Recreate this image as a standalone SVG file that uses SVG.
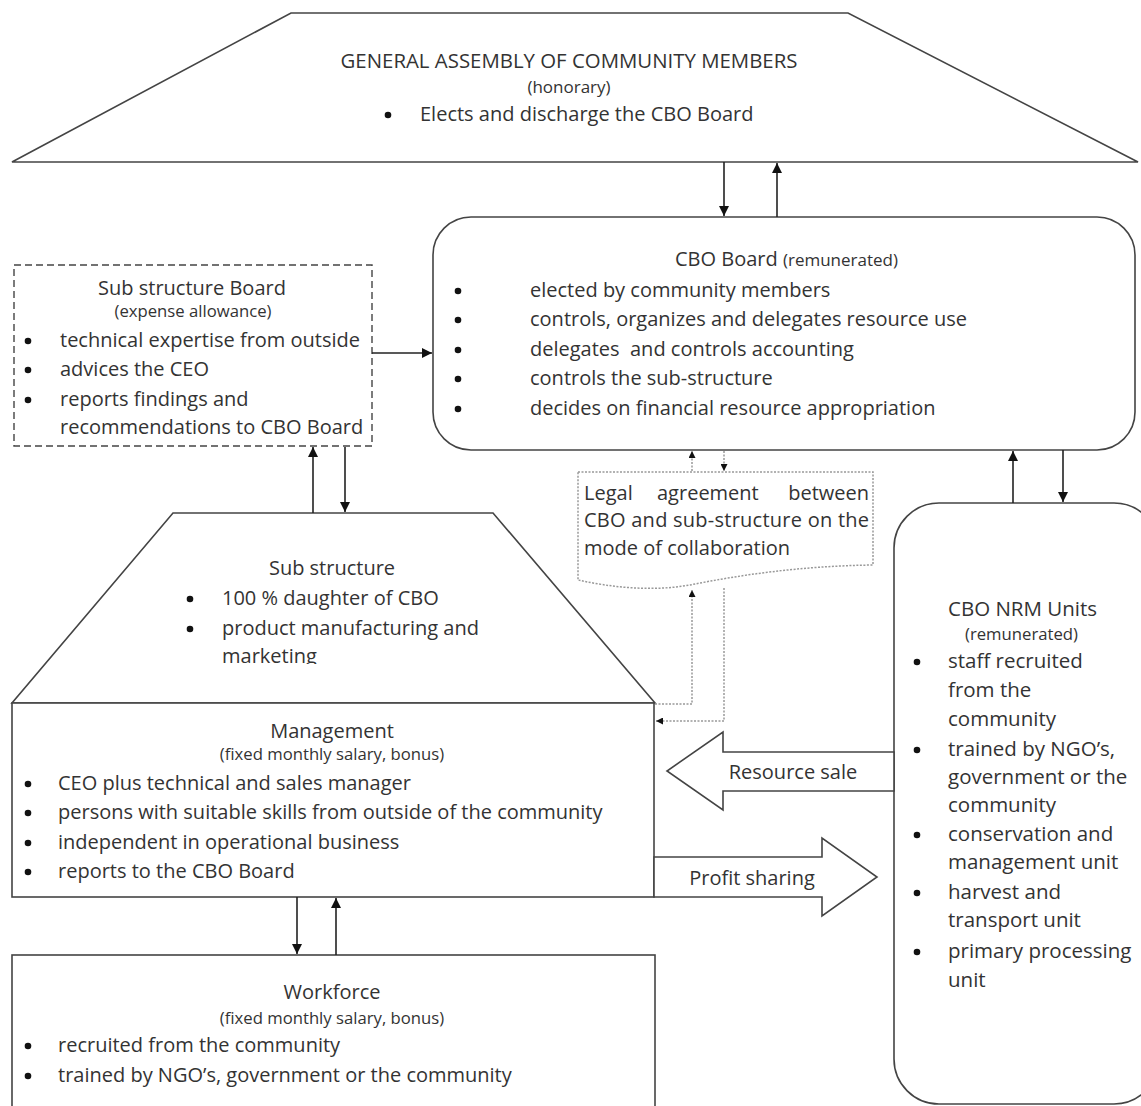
<svg xmlns="http://www.w3.org/2000/svg" width="1141" height="1106" viewBox="0 0 1141 1106">
<defs>
<style>
text{font-family:"Open Sans","Liberation Sans",Arial,sans-serif;fill:#333;}
.t{font-size:20px;}
.s{font-size:16.7px;}
.b{fill:#111;}
.c{text-anchor:middle;}
.box{fill:#fff;stroke:#444;stroke-width:1.6;}
.dash{fill:#fff;stroke:#444;stroke-width:1.4;stroke-dasharray:7 4;}
.dot{fill:#fff;stroke:#999;stroke-width:1.5;stroke-dasharray:2 1.5;}
.ln{fill:none;stroke:#222;stroke-width:1.6;}
.dl{fill:none;stroke:#999;stroke-width:1.5;stroke-dasharray:2 1.5;}
</style>
<marker id="ah" viewBox="0 0 10 10" refX="10" refY="5" markerWidth="7" markerHeight="7" markerUnits="userSpaceOnUse" orient="auto">
<path d="M0,0 L10,5 L0,10 Z" fill="#111"/>
</marker>
<marker id="ahb" viewBox="0 0 10 10" refX="10" refY="5" markerWidth="10" markerHeight="10" markerUnits="userSpaceOnUse" orient="auto">
<path d="M0,0 L10,5 L0,10 Z" fill="#111"/>
</marker>
<clipPath id="subclip"><rect x="0" y="500" width="700" height="164"/></clipPath>
</defs>

<g id="general-assembly">
<polygon class="box" points="291,13 848,13 1138,162 12,162"/>
<text class="c" x="569" y="68" style="font-size:20.4px">GENERAL ASSEMBLY OF COMMUNITY MEMBERS</text>
<text class="c" x="569" y="93" style="font-size:17px">(honorary)</text>
<circle class="b" cx="388" cy="115" r="3.3"/>
<text x="420" y="121" style="font-size:20px">Elects and discharge the CBO Board</text>
</g>

<g id="cbo-board">
<rect class="box" x="433" y="217" width="702" height="233" rx="38"/>
<text x="675" y="266" style="font-size:20px">CBO Board <tspan style="font-size:17px">(remunerated)</tspan></text>
<circle class="b" cx="458" cy="291" r="3.3"/><text class="t" x="530" y="297">elected by community members</text>
<circle class="b" cx="458" cy="320" r="3.3"/><text class="t" x="530" y="326">controls, organizes and delegates resource use</text>
<circle class="b" cx="458" cy="350" r="3.3"/><text class="t" x="530" y="356" xml:space="preserve">delegates  and controls accounting</text>
<circle class="b" cx="458" cy="379" r="3.3"/><text class="t" x="530" y="385">controls the sub-structure</text>
<circle class="b" cx="458" cy="409" r="3.3"/><text class="t" x="530" y="415">decides on financial resource appropriation</text>
</g>

<g id="sub-structure-board">
<rect class="dash" x="14" y="265" width="358" height="181"/>
<text class="t c" x="192" y="295">Sub structure Board</text>
<text class="s c" x="193" y="317">(expense allowance)</text>
<circle class="b" cx="28" cy="341" r="3.3"/><text class="t" x="60" y="347">technical expertise from outside</text>
<circle class="b" cx="28" cy="370" r="3.3"/><text class="t" x="60" y="376">advices the CEO</text>
<circle class="b" cx="28" cy="400" r="3.3"/><text class="t" x="60" y="406">reports findings and</text>
<text class="t" x="60" y="434">recommendations to CBO Board</text>
</g>

<g id="legal-agreement">
<path class="dot" d="M578,472 L873,472 L873,565 C800,566 740,575 690,585 C650,592 610,587 578,580 Z"/>
<text class="t" x="584" y="500">Legal</text>
<text class="t" x="657" y="500">agreement</text>
<text class="t" x="869" y="500" text-anchor="end">between</text>
<text class="t" x="584" y="527" textLength="285">CBO and sub-structure on the</text>
<text class="t" x="584" y="555">mode of collaboration</text>
</g>

<g id="sub-structure">
<polygon class="box" points="173,513 493,513 655,703 12,703"/>
<text class="t c" x="332" y="575">Sub structure</text>
<circle class="b" cx="190" cy="599" r="3.3"/><text class="t" x="222" y="605">100 % daughter of CBO</text>
<circle class="b" cx="190" cy="629" r="3.3"/><text class="t" x="222" y="635">product manufacturing and</text>
<text class="t" x="222" y="663" clip-path="url(#subclip)">marketing</text>
</g>

<g id="management">
<rect class="box" x="12" y="703" width="642" height="194"/>
<text class="t c" x="332" y="738">Management</text>
<text class="s c" x="332" y="760">(fixed monthly salary, bonus)</text>
<circle class="b" cx="28" cy="784" r="3.3"/><text class="t" x="58" y="790">CEO plus technical and sales manager</text>
<circle class="b" cx="28" cy="813" r="3.3"/><text class="t" x="58" y="819">persons with suitable skills from outside of the community</text>
<circle class="b" cx="28" cy="843" r="3.3"/><text class="t" x="58" y="849">independent in operational business</text>
<circle class="b" cx="28" cy="872" r="3.3"/><text class="t" x="58" y="878">reports to the CBO Board</text>
</g>

<g id="workforce">
<rect class="box" x="12" y="955" width="643" height="170"/>
<text class="t c" x="332" y="999">Workforce</text>
<text class="s c" x="332" y="1024">(fixed monthly salary, bonus)</text>
<circle class="b" cx="28" cy="1046" r="3.3"/><text class="t" x="58" y="1052">recruited from the community</text>
<circle class="b" cx="28" cy="1076" r="3.3"/><text class="t" x="58" y="1082">trained by NGO’s, government or the community</text>
</g>

<g id="nrm-units" style="font-size:20.5px">
<rect class="box" x="894" y="503" width="265" height="601" rx="45"/>
<text x="948" y="616">CBO NRM Units</text>
<text class="s" x="965" y="640">(remunerated)</text>
<circle class="b" cx="917" cy="662" r="3.3"/><text x="948" y="668">staff recruited</text>
<text x="948" y="697">from the</text>
<text x="948" y="726">community</text>
<circle class="b" cx="917" cy="750" r="3.3"/><text x="948" y="756">trained by NGO’s,</text>
<text x="948" y="784">government or the</text>
<text x="948" y="812">community</text>
<circle class="b" cx="917" cy="835" r="3.3"/><text x="948" y="841">conservation and</text>
<text x="948" y="869">management unit</text>
<circle class="b" cx="917" cy="893" r="3.3"/><text x="948" y="899">harvest and</text>
<text x="948" y="927">transport unit</text>
<circle class="b" cx="917" cy="952" r="3.3"/><text x="948" y="958">primary processing</text>
<text x="948" y="987">unit</text>
</g>

<g id="connectors">
<line class="ln" x1="724" y1="162" x2="724" y2="216" marker-end="url(#ahb)"/>
<line class="ln" x1="777" y1="217" x2="777" y2="163" marker-end="url(#ahb)"/>
<line class="ln" x1="372" y1="353" x2="432" y2="353" marker-end="url(#ahb)"/>
<line class="ln" x1="313" y1="513" x2="313" y2="447" marker-end="url(#ahb)"/>
<line class="ln" x1="345" y1="447" x2="345" y2="512" marker-end="url(#ahb)"/>
<line class="ln" x1="297" y1="897" x2="297" y2="954" marker-end="url(#ahb)"/>
<line class="ln" x1="336" y1="955" x2="336" y2="898" marker-end="url(#ahb)"/>
<line class="ln" x1="1013" y1="503" x2="1013" y2="451" marker-end="url(#ahb)"/>
<line class="ln" x1="1063" y1="450" x2="1063" y2="502" marker-end="url(#ahb)"/>
<line class="dl" x1="692" y1="471" x2="692" y2="451" marker-end="url(#ah)"/>
<line class="dl" x1="724" y1="451" x2="724" y2="471" marker-end="url(#ah)"/>
<path class="dl" d="M655,704 H692 V590" marker-end="url(#ah)"/>
<path class="dl" d="M724,588 V721 H656" marker-end="url(#ah)"/>
<g id="resource-sale">
<polygon class="box" points="894,752 723,752 723,732 667,771 723,810 723,791 894,791"/>
<text class="t c" x="793" y="779">Resource sale</text>
</g>
<g id="profit-sharing">
<polygon class="box" points="654,857 822,857 822,838 877,877 822,916 822,897 654,897"/>
<text class="t c" x="752" y="885">Profit sharing</text>
</g>
</g>
</svg>
